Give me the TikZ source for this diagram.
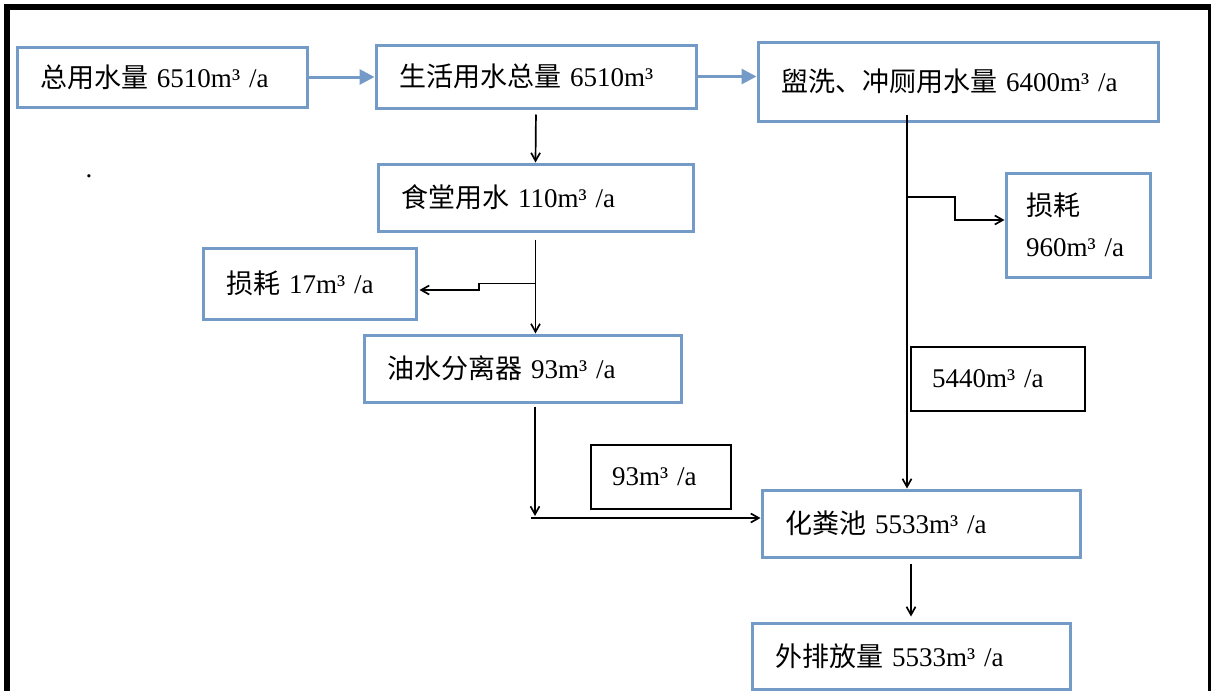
\documentclass[tikz,border=0pt]{standalone}
\usepackage{fontspec}
\usetikzlibrary{arrows.meta}
\setmainfont{Liberation Serif}
\newfontfamily\cjk{Noto Sans CJK SC}
\definecolor{boxblue}{RGB}{116,155,199}
\setlength{\parindent}{0pt}

\begin{document}
\begin{tikzpicture}[x=0.5pt,y=-0.5pt,
  font=\fontsize{13.5}{16}\selectfont,
  wbox/.style={draw=boxblue,line width=1.5pt,align=left,inner xsep=11.5pt,inner ysep=0pt},
  lbox/.style={draw=black,line width=1pt,align=left,inner xsep=10.5pt,inner ysep=0pt},
  bluearrow/.style={draw=boxblue,line width=1.5pt,-{Triangle[length=7.5pt,width=7.5pt]}},
  flow/.style={draw=black,line width=0.85pt,-{Straight Barb[length=4pt,width=4.5pt]}}]
\path[fill=white,use as bounding box] (0,0) rectangle (1211,691);
\draw[line width=3pt] (7,691) -- (7,6.5) -- (1211,6.5);
\draw[line width=1.25pt] (1209.5,6.5) -- (1209.5,691);
\node[inner sep=0pt,anchor=south] (dot) at (89,178) {.};
\node[wbox,text width=122pt,minimum height=30pt] (total) at (162,77) {{\cjk 总用水量} 6510m³ /a};
\node[wbox,text width=137pt,minimum height=31.5pt] (life) at (536,76.5) {{\cjk 生活用水总量} 6510m³};
\node[wbox,text width=134.5pt,minimum height=33.5pt] (canteen) at (535.5,197.5) {{\cjk 食堂用水} 110m³ /a};
\node[wbox,text width=177pt,minimum height=39.5pt] (wash) at (958,81.5) {{\cjk 盥洗、冲厕用水量} 6400m³ /a};
\node[wbox,text width=83.5pt,minimum height=35.5pt] (loss17) at (309.5,283.5) {{\cjk 损耗} 17m³ /a};
\node[wbox,text width=135.5pt,minimum height=33.5pt] (oil) at (522.5,368.5) {{\cjk 油水分离器} 93m³ /a};
\node[wbox,text width=136pt,minimum height=33.5pt] (septic) at (921,523.5) {{\cjk 化粪池} 5533m³ /a};
\node[wbox,text width=136pt,minimum height=33pt] (out) at (911,656) {{\cjk 外排放量} 5533m³ /a};
\node[wbox,inner xsep=10pt,text width=52pt,minimum height=52pt] (loss960) at (1078,225) {{\cjk 损耗}\\[4.5pt]960m³ /a};
\node[lbox,text width=49pt,minimum height=32pt] (q93) at (661,477) {93m³ /a};
\node[lbox,text width=66pt,minimum height=32pt] (q5440) at (998,379) {5440m³ /a};
\coordinate (k17) at (479,290);
\coordinate (j93) at (535,518);
\coordinate (jw) at (907,197);
\coordinate (k960) at (955,220);
\draw[bluearrow] (total.east) -- (life.west |- total.east);
\draw[bluearrow] (life.east) -- (wash.west |- life.east);
\draw[flow,shorten <=2.5pt] (life.south) -- (canteen.north);
\draw[flow,shorten <=3.5pt] (canteen.south) -- (canteen.south |- oil.north);
\draw[flow,shorten >=1pt] (canteen.south |- loss17.east) -- (k17 |- loss17.east) -- (k17) -- (k17 -| loss17.east);
\draw[flow,shorten <=1.5pt] (j93 |- oil.south) -- ([yshift=1pt]j93);
\draw[flow] ([xshift=-2pt]j93) -- (j93 -| septic.west);
\draw[flow,shorten <=-4pt] (jw |- wash.south) -- (jw |- septic.north);
\draw[flow] (jw) -- (k960 |- jw) -- (k960) -- (k960 -| loss960.west);
\draw[flow,shorten <=2.5pt,shorten >=2.5pt] (out.north |- septic.south) -- (out.north);
\end{tikzpicture}
\end{document}
